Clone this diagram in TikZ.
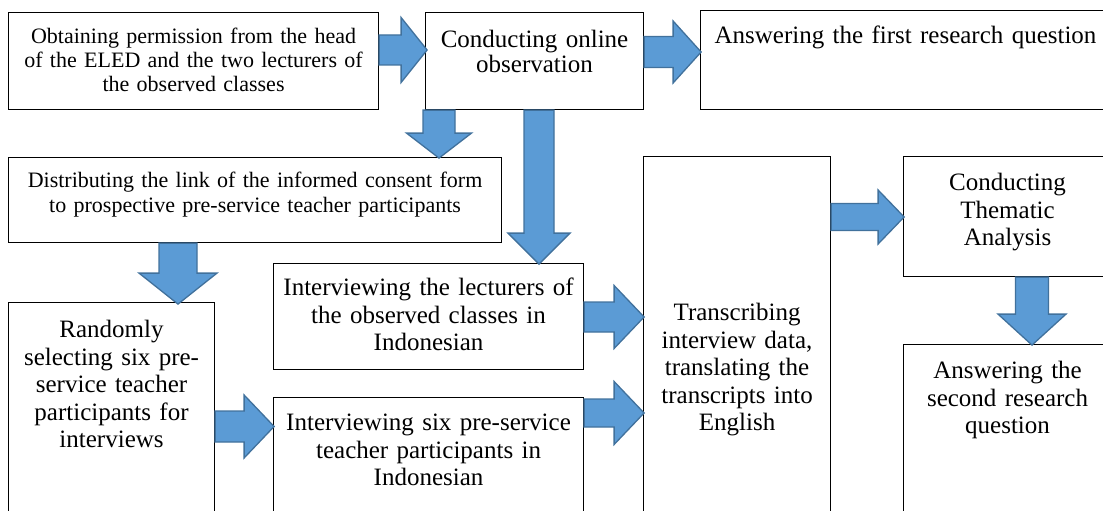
\documentclass[tikz,border=0pt]{standalone}
\usepackage{fontspec}
\setmainfont{Liberation Serif}
\usepackage{tikz}
\usetikzlibrary{calc}

\definecolor{arrowfill}{HTML}{5B9BD5}
\definecolor{arrowline}{HTML}{41719C}

\begin{document}
\begin{tikzpicture}[
  x=1pt, y=-1pt,
  box/.style={draw, line width=1.1pt, anchor=north west, align=center,
    inner sep=0pt, font=\fontsize{25}{27.5}\selectfont},
  smallfont/.style={font=\fontsize{22}{24}\selectfont},
  blockarrow/.style={fill=arrowfill, draw=arrowline, line width=1.3pt},
  % block arrow pointing along +x: length, head length, half shaft, half head
  pics/rblock/.style n args={4}{code={
    \filldraw[blockarrow] (0,-#3) -- (#1-#2,-#3) -- (#1-#2,-#4) -- (#1,0)
      -- (#1-#2,#4) -- (#1-#2,#3) -- (0,#3) -- cycle;
  }},
]
  \useasboundingbox (0,0) rectangle (1103,511);

  % Observation branch along the top
  \node[box, smallfont, text width=370pt, text height=31pt, text depth=66pt] (permit) at (8,12)
        {Obtaining permission from the head\\of the ELED and the two lecturers of\\the observed classes};
  \node[box, font=\fontsize{25}{25}\selectfont, text width=218pt, text height=35pt, text depth=62pt] (observe) at (425,12)
        {Conducting online\\observation};
  \node[box, text width=410pt, text height=33pt, text depth=66pt] (rq1) at (700,10)
        {Answering the first research question};

  % Interview branch
  \node[box, font=\fontsize{22}{25}\selectfont, text width=493pt, text height=30pt, text depth=55pt] (consent) at (8,157)
        {Distributing the link of the informed consent form\\to prospective pre-service teacher participants};
  \node[box, text width=310pt, text height=32pt, text depth=74pt] (lecturers) at (273,263)
        {Interviewing the lecturers of\\the observed classes in\\Indonesian};
  \node[box, text width=206pt, text height=35pt, text depth=183pt] (select) at (8,302)
        {Randomly\\selecting six pre-\\service teacher\\participants for\\interviews};
  \node[box, text width=310pt, text height=33pt, text depth=90pt] (students) at (273,397)
        {Interviewing six pre-service\\teacher participants in\\Indonesian};

  % Analysis on the right
  \node[box, text width=187pt, text height=164pt, text depth=200pt] (transcribe) at (643,156)
        {Transcribing\\interview data,\\translating the\\transcripts into\\English};
  \node[box, text width=208pt, text height=34pt, text depth=86pt] (thematic) at (903,156)
        {Conducting\\Thematic\\Analysis};
  \node[box, text width=208pt, text height=34pt, text depth=142pt] (rq2) at (903,344)
        {Answering the\\second research\\question};

  % Block arrows between the steps
  \pic at ($(permit.north east)+(0,38)$) {rblock={48}{26}{15}{32.5}};
  \pic at ($(observe.north east)+(0,40)$) {rblock={57}{28}{15.5}{31}};
  \pic[rotate=-90] at ($(observe.south west)+(14,0)$) {rblock={48}{25}{16}{32.5}};
  \pic[rotate=-90] at ($(observe.south west)+(114,0)$) {rblock={154}{31}{15}{31}};
  \pic[rotate=-90] at ($(consent.south west)+(170,0)$) {rblock={61}{31}{19}{39}};
  \pic at ($(select.north east)+(0,124.5)$) {rblock={59}{30}{15.5}{31.5}};
  \pic at ($(lecturers.north east)+(0,54)$) {rblock={60}{30}{15}{31.5}};
  \pic at ($(students.north east)+(0,16)$) {rblock={60}{30}{14}{31.5}};
  \pic at ($(transcribe.north east)+(0,61)$) {rblock={73}{26}{13.5}{27}};
  \pic[rotate=-90] at ($(thematic.south west)+(129,0)$) {rblock={68}{31}{16.5}{34}};
\end{tikzpicture}
\end{document}
